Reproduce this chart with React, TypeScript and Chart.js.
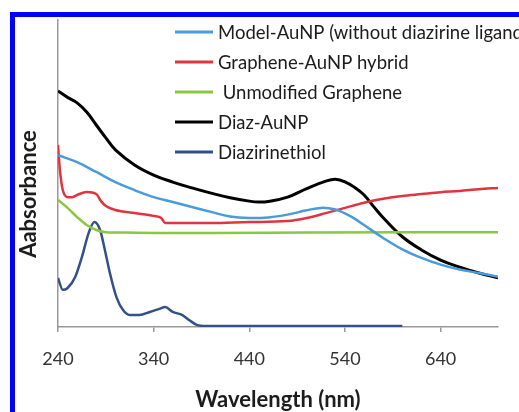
import React, { useEffect, useRef } from "react";
import { Chart, registerables } from "chart.js";

Chart.register(...registerables);

// ---- data ----
const xTickValues = [240, 340, 440, 540, 640];

const seriesNames = [
  "Model-AuNP (without diazirine ligand)",
  "Graphene-AuNP hybrid",
  " Unmodified Graphene",
  "Diaz-AuNP",
  "Diazirinethiol",
];

const seriesColors = ["#4a9bd9", "#e1343f", "#8dc63f", "#000000", "#34508b"];

const modelWl = [240, 260, 280, 300, 320, 340, 360, 380, 400, 420, 440, 460, 480, 500, 515, 530, 540, 550, 560, 580, 600, 620, 640, 660, 680, 700];
const modelAbs = [0.56, 0.537, 0.505, 0.472, 0.446, 0.423, 0.407, 0.391, 0.375, 0.36, 0.355, 0.357, 0.366, 0.38, 0.388, 0.383, 0.37, 0.353, 0.332, 0.29, 0.253, 0.225, 0.203, 0.187, 0.176, 0.164];

const hybridWl = [240, 242, 245, 250, 255, 260, 270, 280, 285, 290, 300, 320, 340, 348, 352, 360, 400, 440, 480, 500, 520, 540, 560, 580, 600, 620, 640, 660, 680, 700];
const hybridAbs = [0.593, 0.511, 0.446, 0.423, 0.423, 0.43, 0.44, 0.433, 0.41, 0.394, 0.381, 0.371, 0.362, 0.355, 0.339, 0.339, 0.339, 0.342, 0.345, 0.355, 0.371, 0.388, 0.405, 0.418, 0.427, 0.433, 0.439, 0.443, 0.449, 0.453];

const grapheneWl = [240, 250, 260, 270, 280, 290, 300, 350, 400, 500, 600, 700];
const grapheneAbs = [0.414, 0.388, 0.358, 0.332, 0.316, 0.309, 0.308, 0.306, 0.306, 0.308, 0.309, 0.309];

const diazWl = [240, 250, 260, 270, 280, 290, 300, 320, 340, 360, 380, 400, 420, 440, 450, 460, 480, 500, 520, 530, 540, 550, 560, 570, 580, 600, 620, 640, 660, 680, 700];
const diazAbs = [0.769, 0.748, 0.73, 0.7, 0.658, 0.616, 0.577, 0.528, 0.495, 0.472, 0.453, 0.436, 0.421, 0.41, 0.407, 0.409, 0.423, 0.451, 0.475, 0.481, 0.473, 0.455, 0.43, 0.392, 0.356, 0.294, 0.251, 0.218, 0.195, 0.176, 0.16];

const thiolWl = [240, 245, 250, 258, 265, 272, 278, 284, 289, 294, 301, 308, 315, 325, 336, 346, 352, 360, 370, 377, 385, 395, 600];
const thiolAbs = [0.16, 0.121, 0.127, 0.163, 0.228, 0.306, 0.342, 0.316, 0.251, 0.179, 0.098, 0.055, 0.039, 0.039, 0.049, 0.059, 0.065, 0.049, 0.039, 0.023, 0.007, 0.003, 0.003];

const seriesWl = [modelWl, hybridWl, grapheneWl, diazWl, thiolWl];
const seriesAbs = [modelAbs, hybridAbs, grapheneAbs, diazAbs, thiolAbs];
const seriesWidths = [2.5, 2.5, 2.5, 3, 2.5];
const seriesSmooth = ["tension", "monotone", "monotone", "tension", "monotone"];

const xTitle = "Wavelength (nm)";
const yTitle = "Aabsorbance";

const FONT = "Lato, 'Open Sans', sans-serif";

const overlayPlugin = {
  id: "overlay",
  afterDraw(chart: any) {
    const ctx = chart.ctx as CanvasRenderingContext2D;
    const area = chart.chartArea;
    ctx.save();
    // legend
    seriesNames.forEach((name, i) => {
      const y = 32 + i * 30;
      ctx.strokeStyle = seriesColors[i];
      ctx.lineWidth = 3;
      ctx.beginPath();
      ctx.moveTo(175, y);
      ctx.lineTo(213, y);
      ctx.stroke();
      ctx.fillStyle = "#1c1c1c";
      ctx.font = `18.5px ${FONT}`;
      ctx.textAlign = "left";
      ctx.textBaseline = "middle";
      ctx.fillText(name, 218, y + 1);
    });
    // axis titles
    ctx.fillStyle = "#1c1c1c";
    ctx.font = `bold 22px ${FONT}`;
    ctx.textAlign = "center";
    ctx.textBaseline = "middle";
    ctx.fillText(xTitle, (area.left + area.right) / 2, 400);
    ctx.translate(29, 194);
    ctx.rotate(-Math.PI / 2);
    ctx.fillText(yTitle, 0, 0);
    ctx.restore();
  },
};

export default function App() {
  const ref = useRef<HTMLCanvasElement | null>(null);

  useEffect(() => {
    if (!ref.current) return;
    const datasets = seriesNames.map((name, i) => ({
      label: name,
      data: seriesWl[i].map((x, j) => ({ x, y: seriesAbs[i][j] })),
      borderColor: seriesColors[i],
      backgroundColor: seriesColors[i],
      borderWidth: seriesWidths[i],
      pointRadius: 0,
      fill: false,
      tension: seriesSmooth[i] === "tension" ? 0.4 : 0,
      cubicInterpolationMode: (seriesSmooth[i] === "monotone" ? "monotone" : "default") as any,
    }));
    const chart = new Chart(ref.current, {
      type: "line",
      data: { datasets },
      options: {
        animation: false,
        responsive: false,
        maintainAspectRatio: false,
        layout: { padding: { left: 0, top: 20, right: 21, bottom: 0 } },
        plugins: { legend: { display: false }, tooltip: { enabled: false } },
        scales: {
          x: {
            type: "linear",
            min: 240,
            max: 700,
            afterBuildTicks: (scale: any) => {
              scale.ticks = xTickValues.map((v) => ({ value: v }));
            },
            afterFit: (scale: any) => {
              scale.height = 85;
            },
            ticks: {
              color: "#333",
              font: { family: FONT, size: 18 },
              padding: 16,
              maxRotation: 0,
            },
            grid: {
              display: true,
              drawOnChartArea: false,
              drawTicks: true,
              tickLength: 5,
              color: "#999",
              lineWidth: 1.5,
            },
            border: { display: true, color: "#999", width: 1.5 },
          },
          y: {
            type: "linear",
            min: 0,
            max: 1,
            afterFit: (scale: any) => {
              scale.width = 58;
            },
            ticks: { display: false },
            grid: { display: false },
            border: { display: true, color: "#999", width: 1.5 },
          },
        },
      },
      plugins: [overlayPlugin],
    });
    return () => chart.destroy();
  }, []);

  return (
    <div style={{ position: "fixed", left: 0, top: 0, width: 519, height: 412, background: "#fff" }}>
      <div
        style={{
          position: "absolute",
          left: 10,
          top: 12,
          width: 520,
          height: 420,
          borderLeft: "5px solid #0000ff",
          borderTop: "5px solid #0000ff",
          boxSizing: "border-box",
        }}
      />
      <canvas ref={ref} width={519} height={412} style={{ position: "absolute", left: 0, top: 0, width: 519, height: 412 }} />
    </div>
  );
}
